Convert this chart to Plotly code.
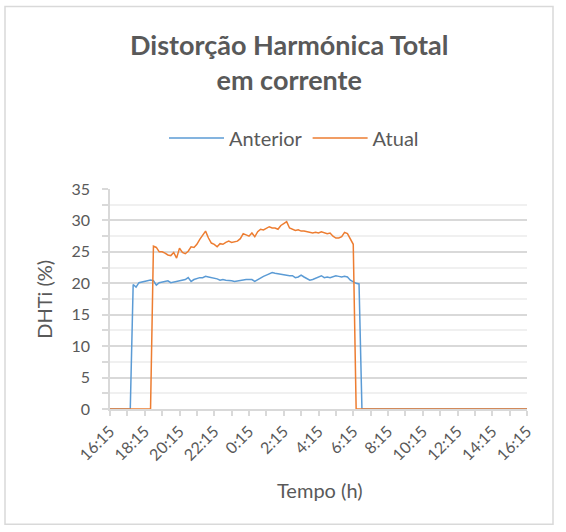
import plotly.graph_objects as go

# Time base: 10-minute samples from 16:15 to 16:15 on the next day (hours since start)
sample_step_h = 1 / 6
n_samples = 145
hours = [k * sample_step_h for k in range(n_samples)]

tick_hours = [0, 2, 4, 6, 8, 10, 12, 14, 16, 18, 20, 22, 24]
tick_labels = ["16:15", "18:15", "20:15", "22:15", "0:15", "2:15", "4:15",
               "6:15", "8:15", "10:15", "12:15", "14:15", "16:15"]

# THDi (%) readings, 10-minute samples
anterior = [
    0, 0, 0, 0, 0, 0, 0, 0,
    19.8, 19.4, 20.1, 20.2, 20.3, 20.4, 20.5, 20.4, 19.7, 20.1, 20.2, 20.4,
    20.4, 20.1, 20.2, 20.2, 20.3, 20.4, 20.6, 20.9, 20.3, 20.6, 20.8, 20.9,
    20.9, 21.1, 21.0, 20.9, 20.9, 20.7, 20.5, 20.6, 20.5, 20.5, 20.4, 20.3,
    20.4, 20.5, 20.6, 20.6, 20.6, 20.6, 20.3, 20.6, 20.8, 21.1, 21.3, 21.5,
    21.7, 21.6, 21.5, 21.5, 21.4, 21.3, 21.2, 21.2, 20.9, 21.0, 21.3, 21.0,
    20.7, 20.5, 20.6, 20.8, 20.9, 21.2, 20.9, 21.0, 20.9, 21.0, 21.2, 21.1,
    21.0, 21.1, 21.0, 20.5, 20.2, 20.0, 19.9,
    0, 0, 0, 0, 0, 0, 0, 0, 0, 0, 0, 0, 0, 0, 0, 0, 0, 0, 0, 0, 0, 0, 0,
    0, 0, 0, 0, 0, 0, 0, 0, 0, 0, 0, 0, 0, 0, 0, 0, 0, 0, 0, 0, 0, 0, 0,
    0, 0, 0, 0, 0, 0, 0, 0, 0, 0, 0, 0,
]

atual = [
    0, 0, 0, 0, 0, 0, 0, 0, 0, 0, 0, 0, 0, 0, 0,
    25.9, 25.7, 25.0, 25.0, 24.8, 24.5, 24.4, 24.9, 24.0, 25.6, 24.9, 24.7,
    25.1, 25.8, 25.7, 26.2, 27.0, 27.7, 28.3, 27.2, 26.4, 26.2, 25.8, 26.3,
    26.2, 26.5, 26.7, 26.5, 26.6, 26.7, 27.1, 27.9, 27.7, 27.5, 28.0, 27.4,
    28.2, 28.6, 28.5, 28.8, 29.0, 28.8, 28.8, 28.6, 29.2, 29.5, 29.8, 28.8,
    28.6, 28.4, 28.5, 28.3, 28.3, 28.2, 28.0, 28.0, 28.1, 28.0, 28.2, 28.1,
    27.9, 28.0, 27.5, 27.2, 27.2, 27.4, 28.1, 27.9, 27.0, 26.2,
    0, 0, 0, 0, 0, 0, 0, 0, 0, 0, 0, 0, 0, 0, 0, 0, 0, 0, 0, 0, 0, 0, 0,
    0, 0, 0, 0, 0, 0, 0, 0, 0, 0, 0, 0, 0, 0, 0, 0, 0, 0, 0, 0, 0, 0, 0,
    0, 0, 0, 0, 0, 0, 0, 0, 0, 0, 0, 0, 0, 0,
]

FONT = "Lato, 'Open Sans', sans-serif"
TEXT = "#595959"
GRID = "#d9d9d9"
GRID_MINOR = "#f0f0f0"

# Plot-area geometry in pixels, used to place the title, axis titles and frame
PL, PR, PT, PB = 110, 527, 189, 409.5
PW, PH = PR - PL, PB - PT


def px_x(px):
    return (px - PL) / PW


def px_y(py):
    return (PB - py) / PH


fig = go.Figure()
fig.add_trace(go.Scatter(x=hours, y=anterior, mode="lines", name="Anterior",
                         line=dict(color="#5B9BD5", width=1.5)))
fig.add_trace(go.Scatter(x=hours, y=atual, mode="lines", name="Atual",
                         line=dict(color="#ED7D31", width=1.5)))

fig.update_layout(
    width=566, height=532,
    margin=dict(l=PL, r=566 - PR, t=PT, b=532 - PB),
    paper_bgcolor="white", plot_bgcolor="white",
    font=dict(family=FONT, color=TEXT, size=16),
    legend=dict(orientation="h", x=px_x(294), xanchor="center",
                y=px_y(138), yanchor="middle",
                font=dict(family=FONT, size=20, color=TEXT),
                itemwidth=55, bgcolor="rgba(0,0,0,0)"),
    showlegend=True,
)

fig.update_xaxes(
    range=[0, 24], tickmode="array", tickvals=tick_hours, ticktext=tick_labels,
    tickangle=-45, ticks="outside", ticklen=5, tickcolor=GRID, tickwidth=1.5,
    showline=True, linecolor=GRID, linewidth=1.5, showgrid=False, zeroline=False,
    tickfont=dict(family=FONT, size=16, color=TEXT),
    minor=dict(tickvals=list(range(25)), ticks="outside", ticklen=5,
               tickcolor=GRID, tickwidth=1.5, showgrid=False),
)
fig.update_yaxes(
    range=[0, 35], dtick=5, ticks="outside", ticklen=6, tickcolor=GRID, tickwidth=1.5,
    showline=True, linecolor=GRID, linewidth=1.5, ticklabelstandoff=9,
    showgrid=True, gridcolor=GRID, gridwidth=1.5, zeroline=False,
    tickfont=dict(family=FONT, size=16, color=TEXT),
    minor=dict(dtick=2.5, ticks="outside", ticklen=6, tickcolor=GRID,
               showgrid=True, gridcolor=GRID_MINOR, gridwidth=1.5),
)

# Chart title
fig.add_annotation(text="<b>Distorção Harmónica Total<br>em corrente</b>",
                   xref="paper", yref="paper", x=px_x(289), y=px_y(62),
                   xanchor="center", yanchor="middle", showarrow=False,
                   font=dict(family=FONT, size=27, color=TEXT))

# Axis titles
fig.add_annotation(text="Tempo (h)", xref="paper", yref="paper",
                   x=px_x(320), y=px_y(491), xanchor="center", yanchor="middle",
                   showarrow=False, font=dict(family=FONT, size=20, color=TEXT))
fig.add_annotation(text="DHTi (%)", xref="paper", yref="paper",
                   x=px_x(44), y=px_y(300), xanchor="center", yanchor="middle",
                   showarrow=False, textangle=-90,
                   font=dict(family=FONT, size=20, color=TEXT))

# Chart area frame
fig.add_shape(type="rect", xref="paper", yref="paper",
              x0=px_x(5), x1=px_x(553), y0=px_y(525), y1=px_y(6),
              line=dict(color="#d9d9d9", width=1.5), fillcolor="rgba(0,0,0,0)",
              layer="below")

fig.write_html("out.html")
